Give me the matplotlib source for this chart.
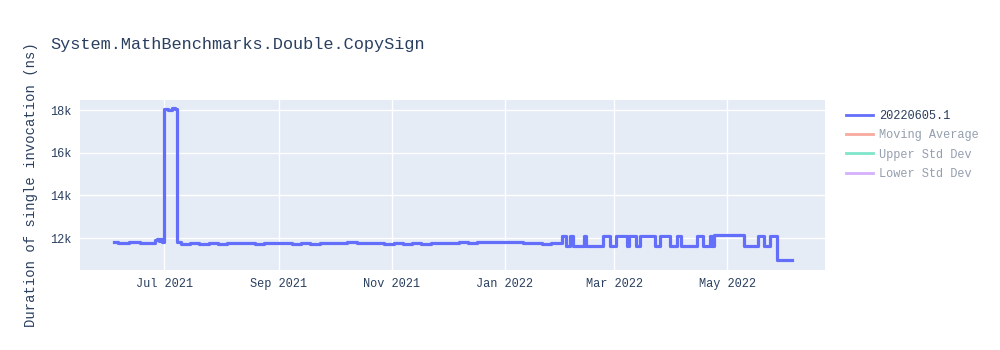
import matplotlib
matplotlib.use("Agg")
import matplotlib.pyplot as plt
import matplotlib.dates as mdates
from matplotlib.lines import Line2D
from matplotlib.ticker import FuncFormatter
import pandas as pd

title = "System.MathBenchmarks.Double.CopySign"
y_label = "Duration of single invocation (ns)"
series_name = "20220605.1"
legend_only = ["Moving Average", "Upper Std Dev", "Lower Std Dev"]

dates = [
    "2021-06-04", "2021-06-06", "2021-06-08", "2021-06-10", "2021-06-12", "2021-06-14",
    "2021-06-16", "2021-06-18", "2021-06-20", "2021-06-22", "2021-06-24", "2021-06-26",
    "2021-06-27", "2021-06-28", "2021-06-29", "2021-06-30",
    "2021-07-01", "2021-07-03", "2021-07-05", "2021-07-07",
    "2021-07-08", "2021-07-10", "2021-07-15", "2021-07-20", "2021-07-25", "2021-07-30",
    "2021-08-04", "2021-08-09", "2021-08-14", "2021-08-19", "2021-08-24", "2021-08-29",
    "2021-09-03", "2021-09-08", "2021-09-13", "2021-09-18", "2021-09-23", "2021-09-28",
    "2021-10-03", "2021-10-08", "2021-10-13", "2021-10-18", "2021-10-23", "2021-10-28",
    "2021-11-02", "2021-11-07", "2021-11-12", "2021-11-17", "2021-11-22", "2021-11-27",
    "2021-12-02", "2021-12-07", "2021-12-12", "2021-12-17", "2021-12-22", "2021-12-27",
    "2022-01-01", "2022-01-06", "2022-01-11", "2022-01-16", "2022-01-21", "2022-01-26",
    "2022-01-31",
    "2022-02-01", "2022-02-03", "2022-02-05", "2022-02-07", "2022-02-13", "2022-02-14",
    "2022-02-23", "2022-02-27", "2022-03-02", "2022-03-08", "2022-03-09", "2022-03-13",
    "2022-03-15", "2022-03-23", "2022-03-26", "2022-03-31", "2022-04-04", "2022-04-06",
    "2022-04-15", "2022-04-18", "2022-04-22", "2022-04-23", "2022-04-24", "2022-05-10",
    "2022-05-18", "2022-05-21", "2022-05-24", "2022-05-28", "2022-06-05",
]
values = [
    11800, 11780, 11750, 11780, 11820, 11800,
    11790, 11770, 11780, 11760, 11770, 11900,
    11950, 11850, 11950, 11800,
    18050, 18020, 18080, 18050,
    11800, 11740, 11760, 11730, 11770, 11740,
    11780, 11750, 11770, 11730, 11760, 11780,
    11760, 11740, 11750, 11730, 11770, 11780,
    11760, 11790, 11750, 11780, 11760, 11740,
    11770, 11730, 11760, 11740, 11780, 11750,
    11770, 11790, 11780, 11800, 11790, 11800,
    11790, 11800, 11780, 11760, 11740, 11770,
    11780,
    12100, 11640, 12100, 11640, 12100, 11640,
    12100, 11640, 12100, 11640, 12100, 11640,
    12100, 11640, 12100, 11640, 12100, 11640,
    12100, 11640, 12100, 11640, 12120, 11640,
    12100, 11640, 12100, 10950, 10950,
]

x = pd.to_datetime(dates)

BG = "#E5ECF6"
TXT = "#2a3f5f"
plotly_colors = ["#636EFA", "#EF553B", "#00CC96", "#AB63FA"]
FONT = "Liberation Mono"

fig = plt.figure(figsize=(10, 3.5), dpi=100)
ax = fig.add_axes([0.08, 1 - 270 / 350, 0.745, 170 / 350])
ax.set_facecolor(BG)
ax.plot(x, values, drawstyle="steps-post", color=plotly_colors[0], linewidth=2.3, zorder=3)

ax.set_xlim(pd.Timestamp("2021-05-16 14:00"), pd.Timestamp("2022-06-22 22:00"))
ax.set_ylim(10500, 18470)
ax.set_yticks([12000, 14000, 16000, 18000])
ax.yaxis.set_major_formatter(FuncFormatter(lambda v, p: f"{int(v/1000)}k"))
ax.xaxis.set_major_locator(mdates.MonthLocator(bymonth=[1, 3, 5, 7, 9, 11]))
ax.xaxis.set_major_formatter(mdates.DateFormatter("%b %Y"))
ax.grid(True, color="white", linewidth=1)
ax.set_axisbelow(True)
for s in ax.spines.values():
    s.set_visible(False)
ax.tick_params(length=0, labelsize=8.6, labelcolor=TXT, pad=6)
for lab in ax.get_xticklabels() + ax.get_yticklabels():
    lab.set_fontfamily(FONT)

fig.text(0.05, 1 - 45 / 350, title, fontsize=12.2, color=TXT, family=FONT, va="center", ha="left")
fig.text(0.031, 1 - 185 / 350, y_label, fontsize=10, color=TXT, family=FONT,
         rotation=90, va="center", ha="center")

handles = [Line2D([], [], color=plotly_colors[0], linewidth=2)]
for c in plotly_colors[1:]:
    handles.append(Line2D([], [], color=c, linewidth=2, alpha=0.5))
labels = [series_name] + legend_only
leg = fig.legend(handles, labels, loc="upper left", bbox_to_anchor=(0.841, 1 - 105 / 350),
                 frameon=False, prop={"family": FONT, "size": 8.6},
                 handlelength=2.3, handletextpad=0.5, labelspacing=0.62, borderaxespad=0)
for i, t in enumerate(leg.get_texts()):
    t.set_color(TXT)
    if i > 0:
        t.set_alpha(0.5)

fig.savefig("out.png", dpi=100)
